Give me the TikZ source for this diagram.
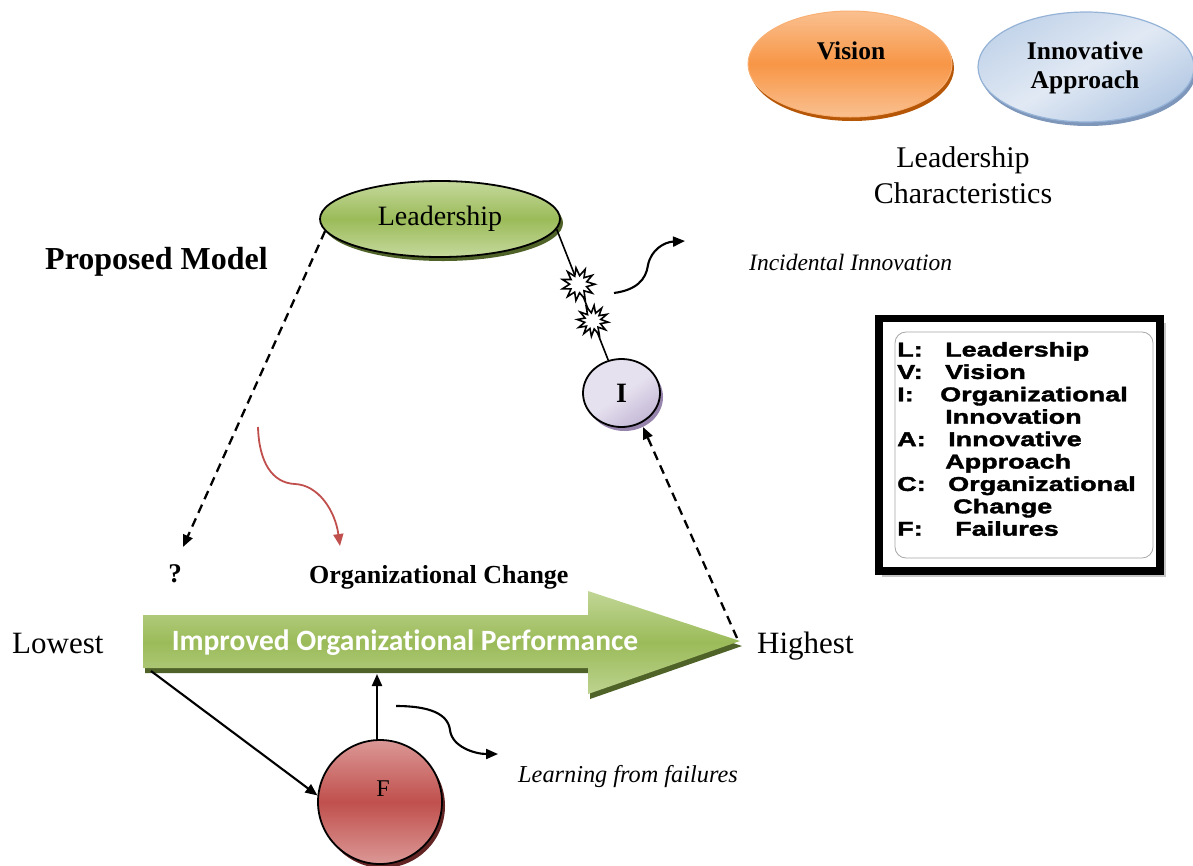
\documentclass[tikz,border=0pt]{standalone}
\usepackage{fontspec}
\setmainfont{Liberation Serif}
\newfontfamily\calfont[Ligatures=NoCommon]{Carlito}
\newfontfamily\legfont[FakeStretch=1.35,FakeBold=1.8]{Liberation Sans}
\usetikzlibrary{shapes.geometric,shadows,arrows.meta}

\definecolor{lgreen}{RGB}{197,217,157}
\definecolor{mgreen}{RGB}{155,187,89}
\definecolor{dgreen}{RGB}{79,98,40}
\definecolor{lorange}{RGB}{250,192,144}
\definecolor{morange}{RGB}{247,150,70}
\definecolor{dorange}{RGB}{182,87,8}
\definecolor{borange}{RGB}{249,176,116}
\definecolor{lblue}{RGB}{225,233,244}
\definecolor{mblue}{RGB}{180,201,228}
\definecolor{bblue}{RGB}{149,179,215}
\definecolor{dblue}{RGB}{125,150,185}
\definecolor{llav}{RGB}{230,225,239}
\definecolor{mlav}{RGB}{196,185,214}
\definecolor{dlav}{RGB}{150,132,172}
\definecolor{lred}{RGB}{219,152,150}
\definecolor{mred}{RGB}{192,80,77}
\definecolor{dred}{RGB}{99,37,35}
\definecolor{redline}{RGB}{192,80,77}

\newcommand\fsz[1]{\fontsize{#1}{#1}\selectfont}
\newcommand\lbl[2][48pt]{\makebox[#1][l]{#2}}

\begin{document}
\begin{tikzpicture}[x=1pt,y=1pt,
  tipA/.style={-{Triangle[length=12pt,width=10pt]}},
  conn/.style={line width=2.1pt,tipA},
  dconn/.style={line width=2.3pt,dash pattern=on 9pt off 6pt,tipA},
  legline/.style={anchor=base west,inner sep=0,font=\legfont\bfseries\fsz{20}},
  burst/.style={star,draw,fill=white,line width=1.6pt,star points=11,
    star point ratio=1.9,minimum size=33pt,inner sep=0}
]
\useasboundingbox (0,0) rectangle (1193,-865);
\clip (0,0) rectangle (1193,-865);

% ---------- top-right characteristics ----------
\node[ellipse,minimum width=204pt,minimum height=106pt,inner sep=0,draw=borange,line width=1pt,
  top color=lorange,bottom color=lorange,middle color=morange,
  drop shadow={shadow xshift=2pt,shadow yshift=-4pt,fill=dorange,opacity=1}] (V) at (850,-64) {};
\node[anchor=base,inner sep=0,font=\bfseries\fsz{25.5}] (Vt) at (851,-59) {Vision};

\node[ellipse,minimum width=216pt,minimum height=110pt,inner sep=0,draw=bblue,line width=1.2pt,
  top color=mblue!80,bottom color=mblue,middle color=lblue,shading angle=30,
  drop shadow={shadow xshift=2pt,shadow yshift=-4pt,fill=dblue,opacity=1}] (A) at (1086,-67) {};
\node[anchor=base,inner sep=0,font=\bfseries\fsz{25.5}] (At1) at (1085,-59) {Innovative};
\node[anchor=base,inner sep=0,font=\bfseries\fsz{25.5}] (At2) at (1085,-88) {Approach};

\node[anchor=base,inner sep=0,font=\fsz{30}] (lc1) at (963,-167) {Leadership};
\node[anchor=base,inner sep=0,font=\fsz{30}] (lc2) at (963,-203) {Characteristics};

% ---------- legend ----------
\fill[gray!45] (882,-323) rectangle (1166,-577);
\draw[line width=7.5pt,fill=white] (879,-318.5) rectangle (1160,-571);
\draw[gray!70,line width=0.8pt,rounded corners=11pt] (895,-332) rectangle (1153,-558);
\node[legline] (g1) at (897,-356.5) {\lbl{L:}Leadership};
\node[legline] (g2) at (897,-378.9) {\lbl{V:}Vision};
\node[legline] (g3) at (897,-401.3) {\lbl[43pt]{I:}Organizational};
\node[legline] (g4) at (897,-423.7) {\lbl{}Innovation};
\node[legline] (g5) at (897,-446.1) {\lbl[51pt]{A:}Innovative};
\node[legline] (g6) at (897,-468.5) {\lbl{}Approach};
\node[legline] (g7) at (897,-490.9) {\lbl[51pt]{C:}Organizational};
\node[legline] (g8) at (897,-513.3) {\lbl[56pt]{}Change};
\node[legline] (g9) at (897,-535.7) {\lbl[58pt]{F:}Failures};

% ---------- main nodes ----------
\node[ellipse,minimum width=240pt,minimum height=76pt,inner sep=0,draw,line width=1.8pt,
  top color=lgreen,bottom color=lgreen,middle color=mgreen,
  drop shadow={shadow xshift=3pt,shadow yshift=-4pt,fill=dgreen,opacity=1},
  font=\fsz{28}] (L) at (440,-219) {Leadership};

\node[ellipse,minimum width=77pt,minimum height=68pt,inner sep=0,draw,line width=1.8pt,
  top color=llav,bottom color=mlav,middle color=llav,shading angle=35,
  drop shadow={shadow xshift=3pt,shadow yshift=-4pt,fill=dlav,opacity=1},
  font=\bfseries\fsz{28}] (I) at (621.5,-393) {I};

\node[circle,minimum size=124pt,inner sep=0,draw,line width=1.8pt,
  top color=lred,bottom color=lred,middle color=mred,
  drop shadow={shadow xshift=3pt,shadow yshift=-4pt,fill=dred,opacity=1}] (F) at (380,-802) {};
\node[anchor=base,inner sep=0,font=\fsz{24}] (Ft) at (383,-796) {F};

% ---------- big arrow ----------
\fill[dgreen] (145,-620) -- (590,-620) -- (590,-596) -- (742,-646) -- (590,-699) -- (590,-673) -- (145,-673) -- cycle;
\shade[top color=lgreen!90!mgreen,bottom color=lgreen!80!mgreen,middle color=mgreen]
  (143,-615) -- (588,-615) -- (588,-591) -- (740,-641) -- (588,-694) -- (588,-668) -- (143,-668) -- cycle;
\node[anchor=base,inner sep=0,text=white,font=\calfont\bfseries\fsz{29.5}] (perf) at (405,-650) {Improved Organizational Performance};
\coordinate (tip) at (737,-638);
\coordinate (abl) at (151,-671);
\coordinate (fup) at (377,-674);

% ---------- texts ----------
\node[anchor=base west,inner sep=0,font=\bfseries\fsz{32}] (pm) at (45,-269) {Proposed Model};
\node[anchor=base,inner sep=0,font=\bfseries\fsz{27}] (q) at (175,-582) {?};
\node[anchor=base west,inner sep=0,font=\bfseries\fsz{26}] (oc) at (309,-583) {Organizational Change};
\node[anchor=base west,inner sep=0,font=\fsz{31}] (lo) at (12,-653) {Lowest};
\node[anchor=base west,inner sep=0,font=\fsz{31}] (hi) at (757,-653) {Highest};
\node[anchor=base west,inner sep=0,font=\itshape\fsz{23.5}] (inc) at (749,-270) {Incidental Innovation};
\node[anchor=base west,inner sep=0,font=\itshape\fsz{24.3}] (lf) at (518,-782) {Learning from failures};

% ---------- connectors ----------
\coordinate (qtip) at (183,-547);
\draw[dconn] (L.186) -- (qtip);

\draw[line width=1.6pt] (L.-5) -- (I.112)
  node[burst,pos=0.42,rotate=8] (s1) {}
  node[burst,pos=0.70,star points=12,rotate=-5,minimum size=31pt] (s2) {};

\coordinate (ic1) at (614,-293);
\coordinate (ic2) at (685,-241);
\draw[conn] (ic1) .. controls (636,-290) and (646,-280) .. (648,-265)
  .. controls (651,-250) and (664,-242) .. (ic2);

\draw[dconn] (tip) -- (643,-427);

\coordinate (r1) at (258,-427);
\coordinate (r2) at (340,-546);
\draw[line width=1.8pt,redline,-{Triangle[length=12pt,width=10pt]}] (r1)
  .. controls (259,-462) and (272,-483) .. (295,-484)
  .. controls (318,-485) and (335,-510) .. (r2);

\draw[conn] (abl) -- (F.174);
\draw[conn] (F.north -| fup) -- (fup);

\coordinate (lc1s) at (396,-706);
\coordinate (lc1e) at (498,-754);
\draw[conn] (lc1s) .. controls (430,-706) and (448,-714) .. (450,-730)
  .. controls (452,-747) and (475,-754) .. (lc1e);
\end{tikzpicture}
\end{document}
